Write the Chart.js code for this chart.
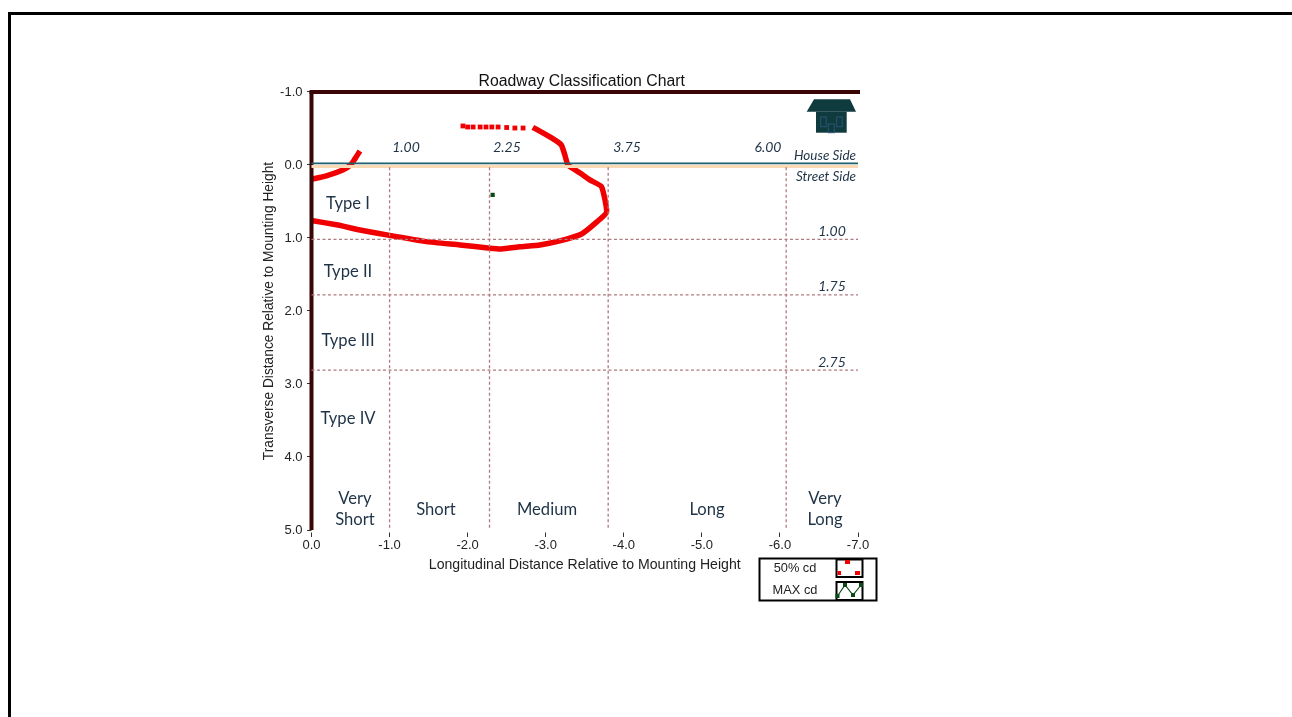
<!DOCTYPE html>
<html>
<head>
<meta charset="utf-8">
<title>Roadway Classification Chart</title>
<script src="https://cdn.jsdelivr.net/npm/chart.js@4/dist/chart.umd.min.js"></script>
<style>
  html, body { margin: 0; padding: 0; background: #fff; overflow: hidden; }
  #wrap { position: relative; width: 1292px; height: 717px; overflow: hidden; }
  #frame { position: absolute; left: 8px; top: 12px; width: 1300px; height: 720px; border: 3.5px solid #000; }
  canvas { position: absolute; left: 0; top: 0; }
</style>
</head>
<body>
<div id="wrap">
  <canvas id="roadway-chart" width="1292" height="717"></canvas>
  <div id="frame"></div>
</div>
<script>
// values
const xTicks = [0, -1, -2, -3, -4, -5, -6, -7];
const yTicks = [-1, 0, 1, 2, 3, 4, 5];

const nearX = [0, -0.19, -0.40, -0.50, -0.56, -0.62];
const nearY = [0.196, 0.15, 0.07, 0.0, -0.09, -0.19];

const loopX = [0, -0.32, -0.62, -1.0, -1.475, -1.90, -2.285, -2.435, -2.67, -2.925, -3.18, -3.46, -3.655, -3.78, -3.715, -3.565, -3.44, -3.285, -3.245, -3.2, -3.075, -2.835];
const loopY = [0.76, 0.82, 0.89, 0.965, 1.05, 1.095, 1.14, 1.15, 1.12, 1.095, 1.04, 0.945, 0.78, 0.645, 0.297, 0.205, 0.11, 0, -0.137, -0.274, -0.37, -0.516];

const dotsX = [-1.94, -2.0, -2.07, -2.16, -2.235, -2.31, -2.39, -2.5, -2.605, -2.71];
const dotsY = [-0.534, -0.52, -0.52, -0.52, -0.52, -0.52, -0.52, -0.513, -0.506, -0.506];

const maxCdX = [-2.32];
const maxCdY = [0.41];

// classification boundaries
const lengthLines = [-1.0, -2.28, -3.8, -6.08];
const widthLines = [1.02, 1.78, 2.81];

const red = '#f00000';
const maroon = '#3a0505';
const gridColor = '#b07a80';
const noteColor = '#1f3347';

function pts(xs, ys) {
    return xs.map((x, i) => ({ x: x, y: ys[i] }));
}

const datasets = [];

// dotted class lines
lengthLines.forEach(v => {
    datasets.push({ data: [{ x: v, y: 0.03 }, { x: v, y: 5 }], showLine: true, borderColor: gridColor, borderWidth: 1.3, borderDash: [3, 2.5], pointRadius: 0, clip: false });
});
widthLines.forEach(v => {
    datasets.push({ data: [{ x: 0, y: v }, { x: -7, y: v }], showLine: true, borderColor: gridColor, borderWidth: 1.3, borderDash: [3, 2.5], pointRadius: 0, clip: false });
});

// house / street side lines
datasets.push({ data: [{ x: 0, y: 0.02 }, { x: -7, y: 0.02 }], showLine: true, borderColor: '#fbd9b5', borderWidth: 3, pointRadius: 0, clip: false });
datasets.push({ data: [{ x: 0, y: -0.022 }, { x: -7, y: -0.022 }], showLine: true, borderColor: '#1f5f6e', borderWidth: 1.6, pointRadius: 0, clip: false });

// heavy frame
datasets.push({ data: [{ x: 0, y: -1 }, { x: -7, y: -1 }], showLine: true, borderColor: maroon, borderWidth: 4, borderCapStyle: 'square', pointRadius: 0, clip: false });
datasets.push({ data: [{ x: 0, y: -1 }, { x: 0, y: 5 }], showLine: true, borderColor: maroon, borderWidth: 4, pointRadius: 0, clip: false });

// 50% cd trace
datasets.push({ label: '50% cd', data: pts(nearX, nearY), showLine: true, borderColor: red, borderWidth: 5.5, pointRadius: 0, tension: 0.3, clip: false });
datasets.push({ label: '50% cd', data: pts(loopX, loopY), showLine: true, borderColor: red, borderWidth: 5.5, pointRadius: 0, tension: 0.15, clip: false });
datasets.push({ label: '50% cd', data: pts(dotsX, dotsY), showLine: false, pointStyle: 'rect', pointRadius: 3.4, backgroundColor: red, borderWidth: 0, clip: false });

// MAX cd
datasets.push({ label: 'MAX cd', data: pts(maxCdX, maxCdY), showLine: false, pointStyle: 'rect', pointRadius: 3, backgroundColor: '#0b4a16', borderWidth: 0, clip: false });

// notes on the chart, [text, x px, y px]
const notes = [
    ['Type I', 348, 204], ['Type II', 348, 272], ['Type III', 348, 341], ['Type IV', 348, 419],
    ['Very', 355, 499], ['Short', 355, 520], ['Short', 436, 510], ['Medium', 547, 510],
    ['Long', 707, 510], ['Very', 825, 499], ['Long', 825, 520]
];
const italicNotes = [
    ['1.00', 406, 147], ['2.25', 507, 147], ['3.75', 627, 147], ['6.00', 768, 147],
    ['1.00', 832, 231], ['1.75', 832, 286], ['2.75', 832, 362]
];
const sideNotes = [['House Side', 825, 156], ['Street Side', 826, 177]];

const decorations = {
    id: 'decorations',
    afterLayout(chart) {
        // chart title sits a little left of the plot centre
        chart.titleBlock.left -= 6;
    },
    afterDatasetsDraw(chart) {
        const c = chart.ctx;
        c.save();
        c.textAlign = 'center';
        c.textBaseline = 'middle';
        c.fillStyle = noteColor;
        c.font = '16.6px Lato';
        notes.forEach(n => c.fillText(n[0], n[1], n[2]));
        c.font = 'italic 14px Lato';
        italicNotes.forEach(n => c.fillText(n[0], n[1], n[2]));
        c.font = 'italic 13.5px Lato';
        sideNotes.forEach(n => c.fillText(n[0], n[1], n[2]));

        // house
        c.fillStyle = '#0f3a3e';
        c.beginPath();
        c.moveTo(806.7, 111.7); c.lineTo(814, 99.3); c.lineTo(850, 99.3); c.lineTo(856, 111.7);
        c.closePath();
        c.fill();
        c.fillRect(816, 111.7, 30.7, 21);
        c.strokeStyle = '#2a5578';
        c.lineWidth = 1;
        c.strokeRect(820.7, 117, 5.5, 9.7);
        c.strokeRect(836.7, 117, 5.5, 9.7);
        c.strokeRect(828.3, 124, 6, 8.7);

        // legend box
        c.strokeStyle = '#000';
        c.lineWidth = 2;
        c.strokeRect(759.5, 558.5, 117, 42);
        c.strokeRect(836.5, 559.5, 26, 17.5);
        c.strokeRect(836.5, 582, 26, 18);
        c.fillStyle = '#222';
        c.font = '12.8px "Liberation Sans"';
        c.fillText('50% cd', 795, 568);
        c.fillText('MAX cd', 795, 590);
        c.fillStyle = red;
        c.fillRect(845, 560, 5, 4);
        c.fillRect(837.5, 571, 3.5, 4);
        c.fillRect(855, 571, 5, 4);
        c.strokeStyle = '#0b4a16';
        c.lineWidth = 1.2;
        c.beginPath();
        c.moveTo(837.5, 596); c.lineTo(845, 585); c.lineTo(853, 595); c.lineTo(861, 585);
        c.stroke();
        c.fillStyle = '#0b4a16';
        [[837.5, 596], [845, 585], [853, 595], [861, 585]].forEach(p => c.fillRect(p[0] - 2, p[1] - 2, 4, 4));
        c.restore();
    }
};

const ctx = document.getElementById('roadway-chart').getContext('2d');
const chart = new Chart(ctx, {
    type: 'scatter',
    data: { datasets: datasets },
    plugins: [decorations],
    options: {
        responsive: false,
        animation: false,
        layout: { padding: { left: 260, right: 434, top: 71, bottom: 143 } },
        plugins: {
            legend: { display: false },
            tooltip: { enabled: false },
            title: {
                display: true,
                text: 'Roadway Classification Chart',
                fullSize: false,
                color: '#111',
                font: { family: '"Liberation Sans"', size: 15.8, weight: 'normal' },
                padding: { top: 1, bottom: 1 }
            }
        },
        scales: {
            x: {
                type: 'linear',
                reverse: true,
                min: -7,
                max: 0,
                afterBuildTicks: s => { s.ticks = xTicks.map(v => ({ value: v })); },
                afterFit: s => { s.height = 44; },
                grid: { drawOnChartArea: false, tickLength: 7, tickBorderDash: [0, 2.5, 4.5, 100], tickColor: '#333' },
                border: { display: false },
                ticks: {
                    color: '#222',
                    padding: 1,
                    maxRotation: 0,
                    font: { family: '"Liberation Sans"', size: 13 },
                    callback: v => Number(v).toFixed(1)
                },
                title: {
                    display: true,
                    text: 'Longitudinal Distance Relative to Mounting Height',
                    color: '#222',
                    font: { family: '"Liberation Sans"', size: 14.1 },
                    padding: { top: 2, bottom: 0 }
                }
            },
            y: {
                type: 'linear',
                reverse: true,
                min: -1,
                max: 5,
                afterBuildTicks: s => { s.ticks = yTicks.map(v => ({ value: v })); },
                afterFit: s => { s.width = 51.5; },
                grid: { drawOnChartArea: false, tickLength: 7, tickBorderDash: [0, 2.5, 4.5, 100], tickColor: '#333' },
                border: { display: false },
                ticks: {
                    color: '#222',
                    padding: 2,
                    font: { family: '"Liberation Sans"', size: 13 },
                    callback: v => Number(v).toFixed(1)
                },
                title: {
                    display: true,
                    text: 'Transverse Distance Relative to Mounting Height',
                    color: '#222',
                    font: { family: '"Liberation Sans"', size: 13.75 },
                    padding: { top: 1, bottom: 0 }
                }
            }
        }
    }
});
</script>
</body>
</html>
